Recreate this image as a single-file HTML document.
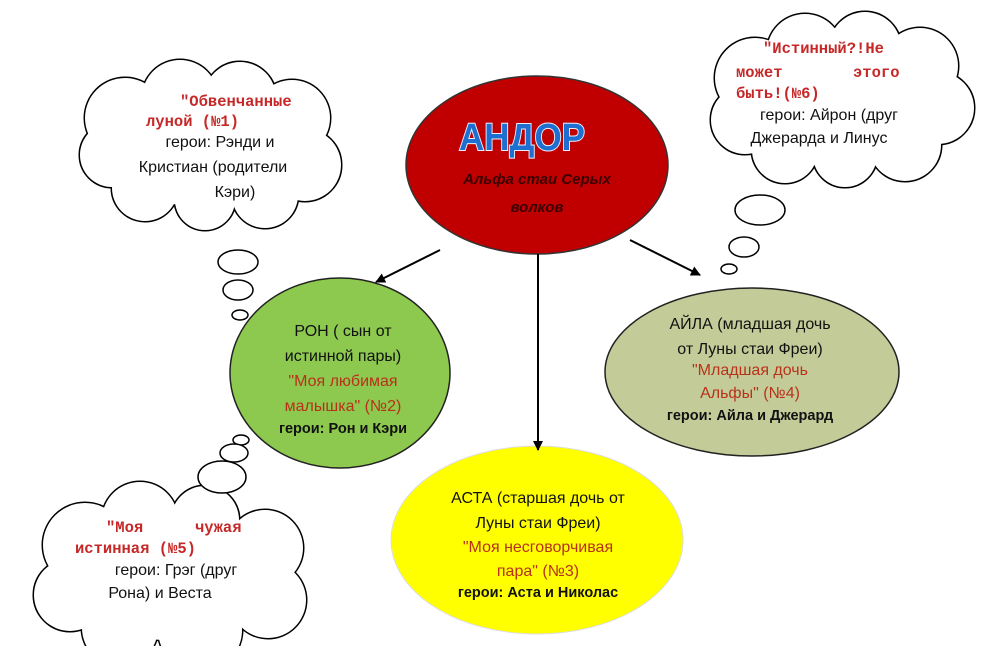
<!DOCTYPE html>
<html><head><meta charset="utf-8"><style>
html,body{margin:0;padding:0;background:#fff;}
svg{display:block}
.t{font-family:"Liberation Sans","DejaVu Sans",sans-serif;font-size:16px;fill:#111;text-anchor:middle}
.b{font-weight:bold;font-size:14.5px}
.r{fill:#b8321a}
.m{font-family:"Liberation Mono",monospace;font-weight:bold;font-size:15.5px;fill:#c62828}
</style></head><body>
<svg width="1000" height="646" viewBox="0 0 1000 646" xmlns="http://www.w3.org/2000/svg">
<defs>
<marker id="ar" markerWidth="10" markerHeight="10" refX="9" refY="5" orient="auto" markerUnits="userSpaceOnUse"><path d="M0,0 L10,5 L0,10 z" fill="#000"/></marker>
<g id="c1">
<circle cx="125" cy="118" r="40"/><circle cx="180" cy="98" r="38"/><circle cx="240" cy="98" r="36"/><circle cx="292" cy="118" r="38"/><circle cx="305" cy="165" r="36"/><circle cx="265" cy="195" r="33"/><circle cx="205" cy="200" r="30"/><circle cx="145" cy="188" r="33"/><circle cx="112" cy="155" r="32"/><ellipse cx="210" cy="150" rx="100" ry="58"/>
</g>
<g id="c6">
<circle cx="755" cy="78" r="40"/><circle cx="805" cy="52" r="38"/><circle cx="865" cy="48" r="36"/><circle cx="920" cy="66" r="38"/><circle cx="938" cy="108" r="36"/><circle cx="905" cy="145" r="36"/><circle cx="845" cy="155" r="32"/><circle cx="785" cy="150" r="33"/><circle cx="745" cy="120" r="34"/><ellipse cx="845" cy="100" rx="105" ry="60"/>
</g>
<g id="c5">
<circle cx="85" cy="545" r="42"/><circle cx="140" cy="520" r="38"/><circle cx="205" cy="520" r="34"/><circle cx="265" cy="548" r="38"/><circle cx="268" cy="600" r="38"/><circle cx="200" cy="630" r="42"/><circle cx="120" cy="628" r="38"/><circle cx="70" cy="595" r="36"/><ellipse cx="170" cy="580" rx="115" ry="60"/>
</g>
</defs>
<g fill="#000" stroke="#000" stroke-width="3"><use href="#c1"/><use href="#c6"/><use href="#c5"/></g>
<g fill="#fff" stroke="none"><use href="#c1"/><use href="#c6"/><use href="#c5"/></g>
<g fill="#fff" stroke="#000" stroke-width="1.5">
<ellipse cx="238" cy="262" rx="20" ry="12"/><ellipse cx="238" cy="290" rx="15" ry="10"/><ellipse cx="240" cy="315" rx="8" ry="5"/>
<ellipse cx="760" cy="210" rx="25" ry="15"/><ellipse cx="744" cy="247" rx="15" ry="10"/><ellipse cx="729" cy="269" rx="8" ry="5"/>
<ellipse cx="241" cy="440" rx="8" ry="5"/><ellipse cx="234" cy="453" rx="14" ry="9"/><ellipse cx="222" cy="477" rx="24" ry="16"/>
</g>
<ellipse cx="537" cy="165" rx="131" ry="89" fill="#c00000" stroke="#333" stroke-width="1.5"/>
<ellipse cx="340" cy="373" rx="110" ry="95" fill="#8dc84f" stroke="#222" stroke-width="1.5"/>
<ellipse cx="752" cy="372" rx="147" ry="84" fill="#c3cc98" stroke="#222" stroke-width="1.5"/>
<ellipse cx="537" cy="540" rx="146" ry="94" fill="#ffff00" stroke="#ddd" stroke-width="1"/>
<g stroke="#000" stroke-width="2">
<line x1="440" y1="250" x2="376" y2="282" marker-end="url(#ar)"/>
<line x1="538" y1="254" x2="538" y2="450" marker-end="url(#ar)"/>
<line x1="630" y1="240" x2="700" y2="275" marker-end="url(#ar)"/>
</g>
<text x="522" y="150" text-anchor="middle" font-family="Liberation Sans,sans-serif" font-weight="bold" font-size="38" fill="#1e6fd0" stroke="#e8f0ff" stroke-width="2" paint-order="stroke" textLength="126" lengthAdjust="spacingAndGlyphs">АНДОР</text>
<text x="537" y="184" class="t" style="font-weight:bold;font-style:italic;font-size:15px;fill:#3a0000">Альфа стаи Серых</text>
<text x="537" y="212" class="t" style="font-weight:bold;font-style:italic;font-size:15px;fill:#3a0000">волков</text>
<text class="t" x="343" y="336">РОН ( сын от</text>
<text class="t" x="343" y="361">истинной пары)</text>
<text class="t r" x="343" y="386">"Моя любимая</text>
<text class="t r" x="343" y="411">малышка" (№2)</text>
<text class="t b" x="343" y="433">герои: Рон и Кэри</text>
<text class="t" x="750" y="329">АЙЛА (младшая дочь</text>
<text class="t" x="750" y="354">от Луны стаи Фреи)</text>
<text class="t r" x="750" y="375">"Младшая дочь</text>
<text class="t r" x="750" y="398">Альфы" (№4)</text>
<text class="t b" x="750" y="420">герои: Айла и Джерард</text>
<text class="t" x="538" y="503">АСТА (старшая дочь от</text>
<text class="t" x="538" y="528">Луны стаи Фреи)</text>
<text class="t r" x="538" y="552">"Моя несговорчивая</text>
<text class="t r" x="538" y="576">пара" (№3)</text>
<text class="t b" x="538" y="597">герои: Аста и Николас</text>
<text class="m" x="180" y="106">"Обвенчанные</text>
<text class="m" x="146" y="126">луной (№1)</text>
<text class="t" x="220" y="147">герои: Рэнди и</text>
<text class="t" x="213" y="172">Кристиан (родители</text>
<text class="t" x="235" y="197">Кэри)</text>
<text class="m" x="763" y="53">"Истинный?!Не</text>
<text class="m" x="736" y="77">может</text>
<text class="m" x="853" y="77">этого</text>
<text class="m" x="736" y="98">быть!(№6)</text>
<text class="t" x="829" y="120">герои: Айрон (друг</text>
<text class="t" x="819" y="143">Джерарда и Линус</text>
<text class="m" x="106" y="532">"Моя</text>
<text class="m" x="195" y="532">чужая</text>
<text class="m" x="75" y="553">истинная (№5)</text>
<text class="t" x="176" y="575">герои: Грэг (друг</text>
<text class="t" x="160" y="598">Рона) и Веста</text>
</svg>
</body></html>
